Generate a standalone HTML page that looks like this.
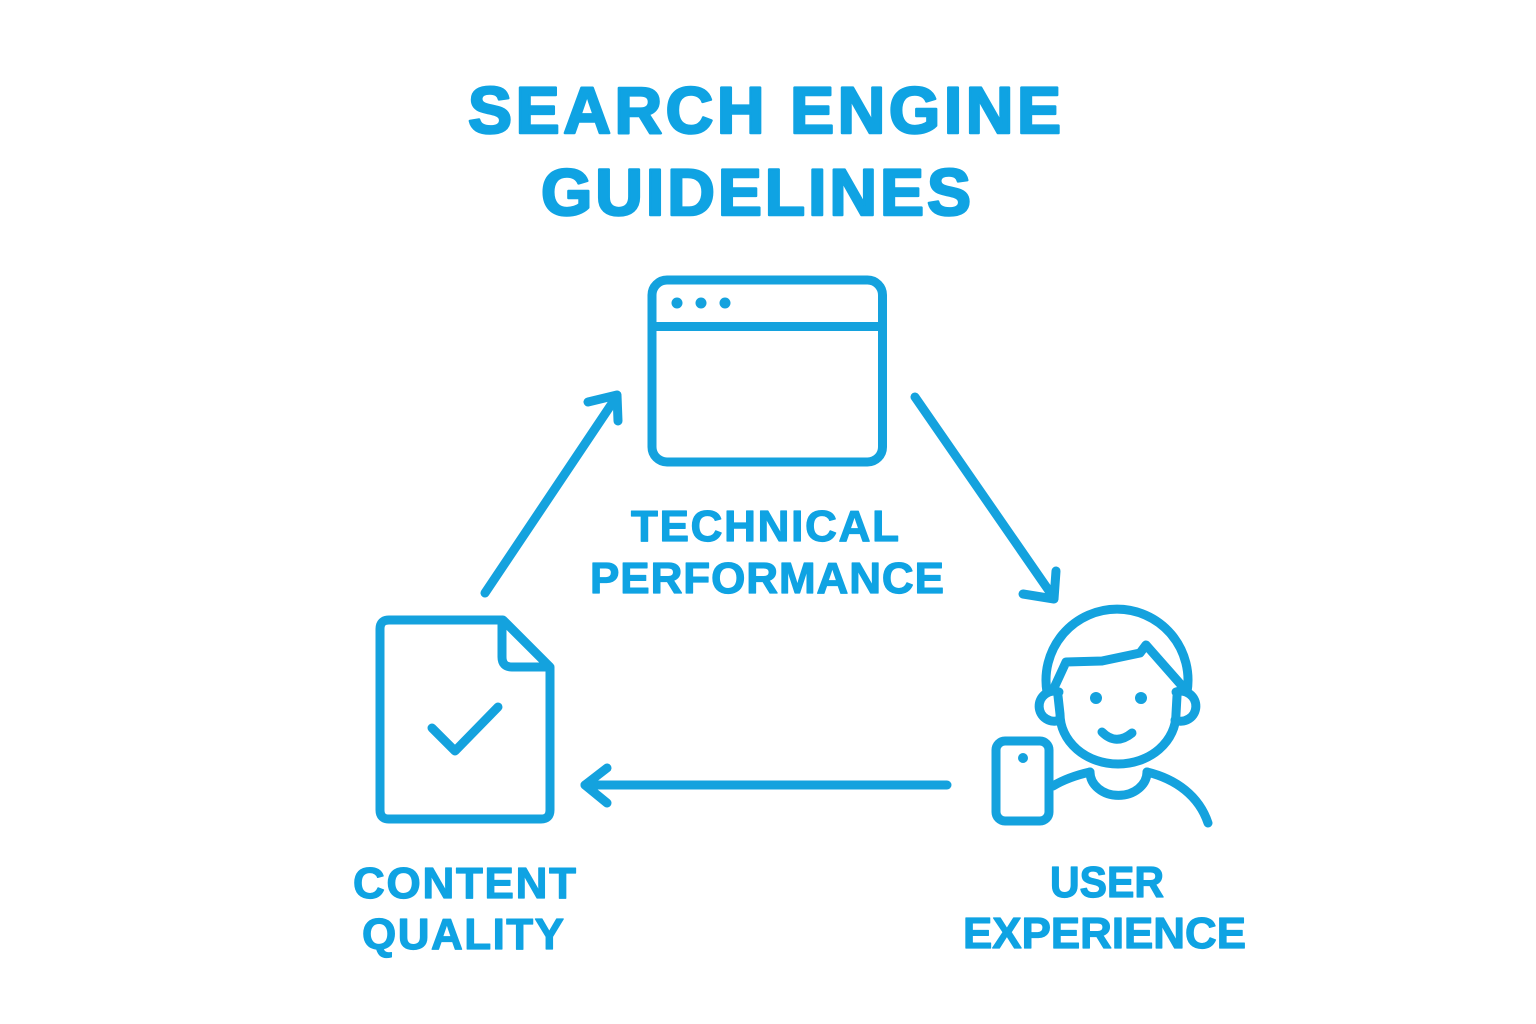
<!DOCTYPE html>
<html>
<head>
<meta charset="utf-8">
<style>
html,body{margin:0;padding:0;background:#ffffff;}
body{width:1536px;height:1024px;overflow:hidden;}
svg{display:block;}
.t{font-family:"Liberation Sans",Arial,sans-serif;font-weight:bold;fill:#0fa3e3;stroke:#0fa3e3;stroke-linejoin:round;}
</style>
</head>
<body>
<svg width="1536" height="1024" viewBox="0 0 1536 1024" xmlns="http://www.w3.org/2000/svg">
  <rect width="1536" height="1024" fill="#ffffff"/>

  <!-- Title -->
  <text class="t" x="468" y="133" font-size="66" stroke-width="2.5" textLength="593" lengthAdjust="spacing">SEARCH ENGINE</text>
  <text class="t" x="541" y="215" font-size="66" stroke-width="2.5" textLength="430" lengthAdjust="spacing">GUIDELINES</text>

  <g fill="none" stroke="#14a2de" stroke-width="9" stroke-linecap="round" stroke-linejoin="round">
    <!-- Browser window -->
    <rect x="652" y="280" width="230.5" height="182" rx="15" ry="15"/>
    <line x1="652" y1="326.5" x2="882.5" y2="326.5"/>

    <!-- Arrow 1 (up-right) -->
    <line x1="485" y1="593" x2="617" y2="396"/>
    <polyline points="588,402 617,395 618,421"/>

    <!-- Arrow 2 (down-right) -->
    <line x1="915" y1="397" x2="1054" y2="598"/>
    <polyline points="1023,594 1054,599 1056,571"/>

    <!-- Arrow 3 (left) -->
    <line x1="947" y1="785" x2="585" y2="785"/>
    <polyline points="607,768 585,785 607,803"/>

    <!-- Document -->
    <path d="M389,620 H503 L550,667 V810 Q550,819 541,819 H389 Q380,819 380,810 V629 Q380,620 389,620 Z"/>
    <path d="M502,621 V657 Q502,667 512,667 H549"/>
    <polyline points="432,728 455,751 498,707"/>

    <!-- Person -->
    <path d="M1047,692 A71,71 0 1 1 1187,692"/>
    <path d="M1054,688 L1066,662 L1102,661 L1140,653 L1146,645 L1183,687"/>
    <path d="M1059,692 A15,15 0 1 0 1060,720"/>
    <path d="M1176,692 A15,15 0 1 1 1175,720"/>
    <path d="M1058,696 L1060,714 A58,50 0 0 0 1176,714 L1177,696"/>
    <path d="M1090,772 A28,23 0 0 0 1147,772"/>
    <path d="M1053,786 Q1068,777 1090,772"/>
    <path d="M1147,772 C1176,779 1199,796 1208,823"/>
    <rect x="996" y="741" width="53" height="80" rx="9" ry="9"/>
  </g>
  <g fill="#14a2de">
    <circle cx="677" cy="303" r="5.5"/>
    <circle cx="701" cy="303" r="5.5"/>
    <circle cx="725" cy="303" r="5.5"/>
    <circle cx="1096" cy="698" r="6"/>
    <circle cx="1141" cy="698" r="6"/>
    <circle cx="1023" cy="758" r="5"/>
  </g>
  <path d="M1102,732 Q1116,746 1132,733" fill="none" stroke="#14a2de" stroke-width="9" stroke-linecap="round"/>

  <!-- Labels -->
  <text class="t" x="631" y="541" font-size="44" stroke-width="1.2" textLength="268" lengthAdjust="spacing">TECHNICAL</text>
  <text class="t" x="590" y="593" font-size="44" stroke-width="1.2" textLength="354" lengthAdjust="spacing">PERFORMANCE</text>

  <text class="t" x="353" y="898" font-size="44" stroke-width="1.2" textLength="223" lengthAdjust="spacing">CONTENT</text>
  <text class="t" x="362" y="949" font-size="44" stroke-width="1.2" textLength="202" lengthAdjust="spacing">QUALITY</text>

  <text class="t" x="1050" y="897" font-size="44" stroke-width="1.2" textLength="114" lengthAdjust="spacingAndGlyphs">USER</text>
  <text class="t" x="963" y="948" font-size="44" stroke-width="1.2" textLength="283" lengthAdjust="spacingAndGlyphs">EXPERIENCE</text>
</svg>
</body>
</html>
